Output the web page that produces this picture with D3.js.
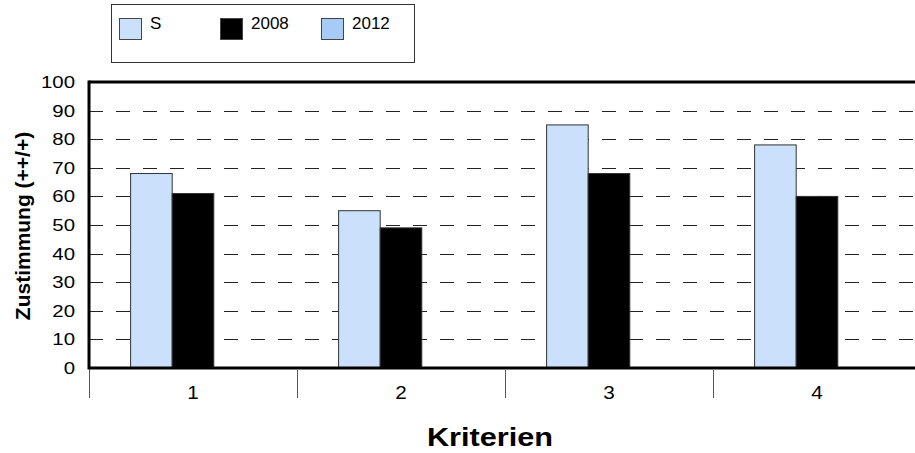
<!DOCTYPE html>
<html>
<head>
<meta charset="utf-8">
<script src="https://cdn.jsdelivr.net/npm/d3@7/dist/d3.min.js"></script>
<style>
  html, body { margin: 0; padding: 0; background: #fff; }
  svg { display: block; font-family: Arial, "Liberation Sans", sans-serif; }
</style>
</head>
<body>
<svg id="chart" width="915" height="453"></svg>
<script>
// ---- data ----
const categories = ["1", "2", "3", "4"];
const seriesNames = ["S", "2008", "2012"];
const valuesS = [68, 55, 85, 78];
const values2008 = [61, 49, 68, 60];
const values2012 = [null, null, null, null];
const yTicks = [0, 10, 20, 30, 40, 50, 60, 70, 80, 90, 100];
const yTitle = "Zustimmung (++/+)";
const xTitle = "Kriterien";

const colors = { "S": "#cbe0fb", "2008": "#000000", "2012": "#a6cbf7" };

const seriesValues = { "S": valuesS, "2008": values2008, "2012": values2012 };

const svg = d3.select("#chart");
const margin = { left: 89, top: 82, bottom: 368 };
const bandStep = 208;
const plotRight = margin.left + bandStep * categories.length;

const x = d3.scaleBand().domain(categories).range([margin.left, plotRight]).padding(0);
const xi = d3.scaleBand().domain(seriesNames).range([0, x.bandwidth()]).paddingInner(0).paddingOuter(1);
const y = d3.scaleLinear().domain([0, 100]).range([margin.bottom, margin.top]);

// gridlines
svg.append("g").selectAll("line")
  .data(yTicks.filter(t => t > 0 && t < 100))
  .join("line")
  .attr("x1", margin.left).attr("x2", plotRight)
  .attr("y1", d => Math.round(y(d)) + 0.5).attr("y2", d => Math.round(y(d)) + 0.5)
  .attr("stroke", "#222").attr("stroke-width", 1)
  .attr("stroke-dasharray", "14,13");

// bars
const rows = [];
categories.forEach((c, i) => {
  seriesNames.forEach(s => {
    const v = seriesValues[s][i];
    if (v != null) rows.push({ c, s, v });
  });
});
svg.append("g").selectAll("rect")
  .data(rows)
  .join("rect")
  .attr("x", d => x(d.c) + xi(d.s))
  .attr("y", d => y(d.v))
  .attr("width", xi.bandwidth())
  .attr("height", d => y(0) - y(d.v))
  .attr("fill", d => colors[d.s])
  .attr("stroke", "#333")
  .attr("stroke-width", 1);

// plot frame: top, left, bottom thick
svg.append("line").attr("x1", margin.left).attr("x2", plotRight)
  .attr("y1", y(100)).attr("y2", y(100)).attr("stroke", "#000").attr("stroke-width", 3);
svg.append("line").attr("x1", margin.left).attr("x2", margin.left)
  .attr("y1", y(100) - 1.5).attr("y2", y(0) + 1.5).attr("stroke", "#000").attr("stroke-width", 3);
svg.append("line").attr("x1", margin.left).attr("x2", plotRight)
  .attr("y1", y(0)).attr("y2", y(0)).attr("stroke", "#000").attr("stroke-width", 3);

// y axis labels
const yAxis = svg.append("g");
yAxis.selectAll("text")
  .data(yTicks)
  .join("text")
  .attr("transform", d => `translate(75,${y(d) + 6}) scale(1.2,1)`)
  .attr("text-anchor", "end")
  .attr("font-size", 17)
  .attr("fill", "#000")
  .text(d => d);

// x category ticks and labels
svg.append("g").selectAll("line")
  .data(categories)
  .join("line")
  .attr("x1", d => x(d) + 0.5).attr("x2", d => x(d) + 0.5)
  .attr("y1", y(0) + 2).attr("y2", y(0) + 30)
  .attr("stroke", "#555").attr("stroke-width", 1);
svg.append("g").selectAll("text")
  .data(categories)
  .join("text")
  .attr("transform", d => `translate(${x(d) + x.bandwidth() / 2},399) scale(1.15,1)`)
  .attr("text-anchor", "middle")
  .attr("font-size", 18)
  .text(d => d);

// axis titles
svg.append("text")
  .attr("transform", `translate(490,446) scale(1.18,1)`)
  .attr("text-anchor", "middle")
  .attr("font-size", 26)
  .attr("font-weight", "bold")
  .text(xTitle);
svg.append("text")
  .attr("transform", `translate(30,226) rotate(-90) scale(1.05,1)`)
  .attr("text-anchor", "middle")
  .attr("font-size", 20)
  .attr("font-weight", "bold")
  .text(yTitle);

// legend
const legend = svg.append("g");
legend.append("rect")
  .attr("x", 111.5).attr("y", 4.5).attr("width", 303).attr("height", 58)
  .attr("fill", "#fff").attr("stroke", "#333").attr("stroke-width", 1);
const legendX = d3.scalePoint().domain(seriesNames).range([119, 321]);
const li = legend.selectAll("g.item").data(seriesNames).join("g")
  .attr("class", "item")
  .attr("transform", d => `translate(${legendX(d)},18)`);
li.append("rect")
  .attr("x", 0.5).attr("y", 0.5).attr("width", 22).attr("height", 21)
  .attr("fill", d => colors[d]).attr("stroke", "#444").attr("stroke-width", 1);
li.append("text")
  .attr("x", 31).attr("y", 11)
  .attr("font-size", 17)
  .text(d => d);
</script>
</body>
</html>
